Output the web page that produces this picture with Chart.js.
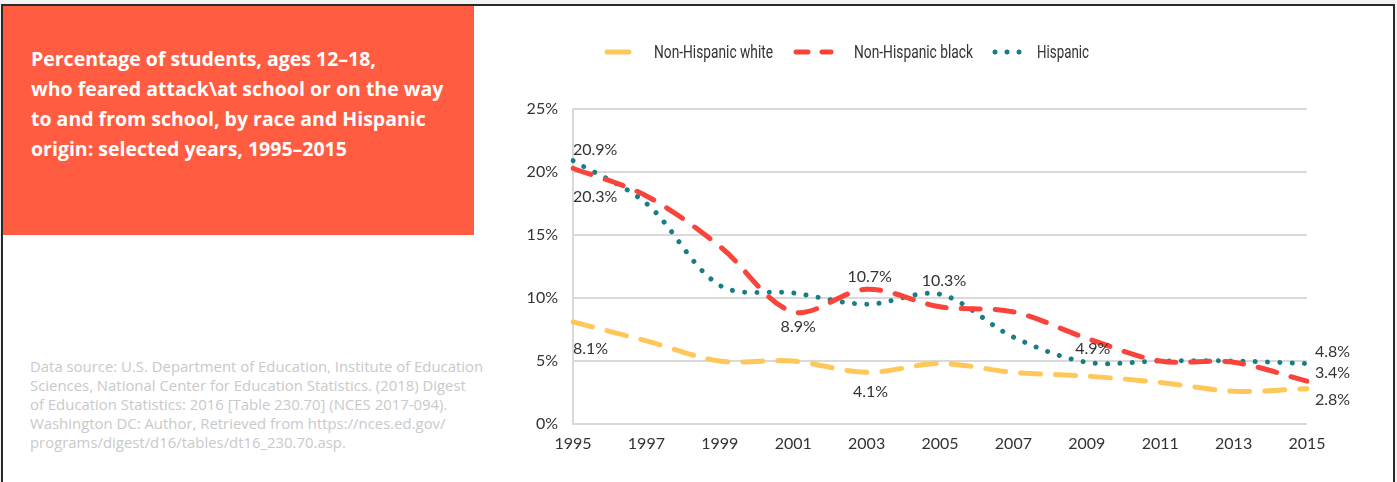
<!DOCTYPE html>
<html>
<head>
<meta charset="utf-8">
<script src="https://cdn.jsdelivr.net/npm/chart.js@4.4.1/dist/chart.umd.min.js"></script>
<style>
html,body{margin:0;padding:0;width:1397px;height:482px;overflow:hidden;background:#f3f3f3;}
#frame{position:absolute;left:1px;top:4px;width:1394px;height:490px;box-sizing:border-box;background:#fff;border:2px solid #2a2a2a;border-bottom:none;}
#titlebox{position:absolute;left:3px;top:6px;width:471px;height:229px;background:#ff5c42;}
#title{position:absolute;left:31px;top:44px;margin:0;font-family:'Open Sans',Roboto,sans-serif;font-weight:700;font-size:19.5px;line-height:30px;color:#fff;white-space:nowrap;}
#source{position:absolute;left:30px;top:357px;margin:0;font-family:'Open Sans',Roboto,sans-serif;font-weight:400;font-size:14.9px;line-height:19px;color:#c9c9c9;white-space:nowrap;}
#chartbox{position:absolute;left:500px;top:6px;width:894px;height:476px;}
</style>
</head>
<body>
<div id="frame"></div>
<div id="titlebox"></div>
<p id="title">Percentage of students, ages 12–18,<br>who feared attack\at school or on the way<br>to and from school, by race and Hispanic<br>origin: selected years, 1995–2015</p>
<p id="source">Data source: U.S. Department of Education, Institute of Education<br>Sciences, National Center for Education Statistics. (2018) Digest<br>of Education Statistics: 2016 [Table 230.70] (NCES 2017-094).<br>Washington DC: Author, Retrieved from https://nces.ed.gov/<br>programs/digest/d16/tables/dt16_230.70.asp.</p>
<div id="chartbox"><canvas id="c"></canvas></div>
<script>
// ---- data ----
const years = ['1995','1997','1999','2001','2003','2005','2007','2009','2011','2013','2015'];
const nonHispanicWhite = [8.1, 6.6, 5.0, 5.0, 4.1, 4.8, 4.1, 3.8, 3.3, 2.6, 2.8];
const nonHispanicBlack = [20.3, 18.1, 14.1, 8.9, 10.7, 9.3, 8.9, 6.8, 5.0, 4.9, 3.4];
const hispanic = [20.9, 17.5, 11.0, 10.4, 9.5, 10.3, 6.9, 4.9, 5.0, 5.0, 4.8];
const seriesNames = ['Non-Hispanic white', 'Non-Hispanic black', 'Hispanic'];
const yTickValues = [0, 5, 10, 15, 20, 25];

// ---- styling / placement (not data) ----
const labelPlacements = [ // [dataset, point, align, dx, dy]
  [2, 0, 'left', 0, -11],
  [1, 0, 'left', 0, 29],
  [0, 0, 'left', 0, 27],
  [1, 3, 'center', 5, 15],
  [0, 4, 'center', 4, 20],
  [1, 4, 'center', 3, -12],
  [2, 5, 'center', 4, -13],
  [2, 7, 'center', 6, -13],
  [2, 10, 'left', 8, -12],
  [1, 10, 'left', 8, -8],
  [0, 10, 'left', 8, 11]
];
const legendSlots = [ // [lineStart, lineEnd, textX, textMaxWidth] relative to canvas
  [107, 129, 154, 119],
  [296, 331, 354, 119],
  [495, 519.5, 537, 52]
];
const legendY = 46;
const textColor = '#333333';

const pointLabelPlugin = {
  id: 'pointLabels',
  afterDatasetsDraw(chart) {
    const ctx = chart.ctx;
    ctx.save();
    ctx.font = '16px Lato';
    ctx.fillStyle = textColor;
    ctx.textBaseline = 'middle';
    labelPlacements.forEach(([d, i, align, dx, dy]) => {
      const v = chart.data.datasets[d].data[i];
      const x = chart.scales.x.getPixelForValue(i) + dx;
      const y = chart.scales.y.getPixelForValue(v) + dy;
      ctx.textAlign = align;
      ctx.fillText(v.toFixed(1) + '%', x, y);
    });
    ctx.restore();
  }
};

const legendPlugin = {
  id: 'lineLegend',
  afterDraw(chart) {
    const ctx = chart.ctx;
    ctx.save();
    chart.data.datasets.forEach((ds, k) => {
      const [x0, x1, tx, maxW] = legendSlots[k];
      ctx.beginPath();
      ctx.strokeStyle = ds.borderColor;
      ctx.lineWidth = ds.borderWidth;
      ctx.lineCap = 'round';
      ctx.setLineDash(ds.legendDash);
      ctx.moveTo(x0, legendY);
      ctx.lineTo(x1, legendY);
      ctx.stroke();
      ctx.setLineDash([]);
      ctx.font = "18px Roboto, sans-serif";
      ctx.fillStyle = textColor;
      ctx.textAlign = 'left';
      ctx.textBaseline = 'middle';
      ctx.fillText(ds.label, tx, legendY + 1, maxW);
    });
    ctx.restore();
  }
};

function build() {
  Chart.defaults.font.family = 'Lato';
  new Chart(document.getElementById('c'), {
    type: 'line',
    data: {
      labels: years,
      datasets: [
        { label: seriesNames[0], data: nonHispanicWhite, borderColor: '#ffc75a', borderWidth: 5,
          borderDash: [20, 15], borderCapStyle: 'round', legendDash: [], pointRadius: 0, tension: 0.33, fill: false },
        { label: seriesNames[1], data: nonHispanicBlack, borderColor: '#f8443a', borderWidth: 5,
          borderDash: [19, 15], borderCapStyle: 'round', legendDash: [12, 14], pointRadius: 0, tension: 0.33, fill: false },
        { label: seriesNames[2], data: hispanic, borderColor: '#187e84', borderWidth: 5,
          borderDash: [0.01, 12.3], borderCapStyle: 'round', legendDash: [0.01, 12], pointRadius: 0, tension: 0.33, fill: false }
      ]
    },
    options: {
      responsive: true,
      maintainAspectRatio: false,
      animation: false,
      layout: { padding: { left: 13, right: 87, top: 103, bottom: 0 } },
      plugins: { legend: { display: false }, tooltip: { enabled: false } },
      scales: {
        x: {
          grid: { display: false, drawTicks: false },
          border: { display: false },
          ticks: { color: textColor, font: { size: 16 }, padding: 10, maxRotation: 0, autoSkip: false },
          afterFit: (a) => { a.height = 58; }
        },
        y: {
          min: 0, max: 25,
          afterBuildTicks: (a) => { a.ticks = yTickValues.map(v => ({ value: v })); },
          grid: { color: '#d9d9d9', lineWidth: 2, drawTicks: false },
          border: { color: '#d9d9d9', width: 2 },
          ticks: { color: textColor, font: { size: 16 }, padding: 15, callback: (v) => v + '%' },
          afterFit: (a) => { a.width = 60; }
        }
      }
    },
    plugins: [pointLabelPlugin, legendPlugin]
  });
}
Promise.all([
  document.fonts.load('16px Lato'),
  document.fonts.load('18px Roboto'),
  document.fonts.load('bold 19.5px "Open Sans"'),
  document.fonts.load('15px "Open Sans"')
]).then(build, build);
</script>
</body>
</html>
